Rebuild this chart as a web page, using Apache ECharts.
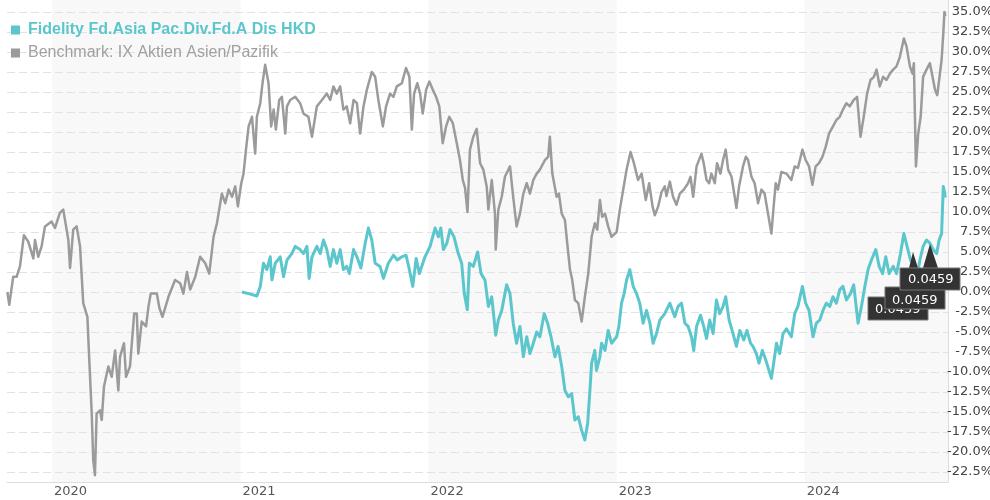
<!DOCTYPE html>
<html>
<head>
<meta charset="utf-8">
<script src="https://cdn.jsdelivr.net/npm/echarts@6/dist/echarts.min.js"></script>
<style>html,body{margin:0;padding:0;background:#fff}#chart{width:990px;height:500px}</style>
</head>
<body>
<div id="chart"></div>
<script>
// Time positions are decimal years, values are percent performance
const fundName = 'Fidelity Fd.Asia Pac.Div.Fd.A Dis HKD';
const benchName = 'Benchmark: IX Aktien Asien/Pazifik';
const axisStart = 2019.761;
const axisEnd = 2024.760;
const yearBands = [[2020, 2021], [2022, 2023], [2024, 2024.760]];
const calloutLabel = '0.0459';

const benchmark = [[2019.763,0.0],[2019.773,-1.6],[2019.794,1.9],[2019.812,1.9],[2019.830,3.2],[2019.851,7.1],[2019.874,6.3],[2019.901,4.2],[2019.910,6.5],[2019.927,4.4],[2019.945,5.7],[2019.963,8.2],[2019.998,8.8],[2020.016,8.0],[2020.042,9.9],[2020.060,10.3],[2020.087,6.5],[2020.096,3.0],[2020.113,7.8],[2020.131,8.2],[2020.149,5.7],[2020.166,-1.4],[2020.188,-3.1],[2020.198,-8.5],[2020.211,-15.2],[2020.219,-21.0],[2020.228,-22.9],[2020.237,-15.2],[2020.255,-14.8],[2020.264,-16.0],[2020.276,-11.8],[2020.299,-9.3],[2020.317,-10.6],[2020.335,-7.3],[2020.352,-12.3],[2020.361,-8.1],[2020.382,-6.4],[2020.393,-10.6],[2020.414,-9.3],[2020.436,-2.7],[2020.450,-2.7],[2020.458,-7.7],[2020.476,-3.7],[2020.499,-4.3],[2020.512,-1.8],[2020.524,-0.2],[2020.556,-0.2],[2020.570,-2.0],[2020.586,-3.1],[2020.618,-0.6],[2020.653,1.5],[2020.680,1.1],[2020.697,-0.2],[2020.716,2.5],[2020.733,0.3],[2020.760,1.9],[2020.786,4.4],[2020.813,3.6],[2020.834,2.3],[2020.857,6.9],[2020.875,8.6],[2020.901,12.3],[2020.919,11.1],[2020.937,12.8],[2020.955,11.9],[2020.972,13.2],[2020.986,10.7],[2021.004,13.6],[2021.016,14.8],[2021.029,17.8],[2021.043,20.7],[2021.061,21.9],[2021.078,17.3],[2021.087,21.9],[2021.105,23.6],[2021.117,26.1],[2021.131,28.4],[2021.149,26.1],[2021.163,20.7],[2021.176,22.8],[2021.188,20.3],[2021.206,24.0],[2021.220,24.4],[2021.238,19.8],[2021.247,23.2],[2021.264,24.0],[2021.291,24.4],[2021.317,23.6],[2021.335,22.3],[2021.361,21.9],[2021.380,19.4],[2021.406,23.2],[2021.433,24.0],[2021.459,24.8],[2021.477,24.0],[2021.494,25.7],[2021.512,24.8],[2021.530,25.7],[2021.547,22.8],[2021.565,23.2],[2021.583,21.1],[2021.601,24.0],[2021.619,23.6],[2021.636,19.8],[2021.654,23.2],[2021.672,25.3],[2021.698,27.5],[2021.716,26.9],[2021.733,24.0],[2021.757,20.7],[2021.774,23.2],[2021.795,24.8],[2021.813,24.4],[2021.831,25.7],[2021.858,26.1],[2021.880,28.0],[2021.898,26.9],[2021.911,20.3],[2021.923,24.8],[2021.940,26.1],[2021.955,24.8],[2021.969,22.3],[2021.987,25.3],[2022.004,26.3],[2022.022,25.3],[2022.040,24.4],[2022.057,23.2],[2022.075,18.6],[2022.093,20.7],[2022.110,21.9],[2022.129,21.1],[2022.150,18.6],[2022.167,16.5],[2022.182,14.0],[2022.194,13.0],[2022.207,10.0],[2022.220,17.8],[2022.238,19.4],[2022.256,20.4],[2022.274,16.1],[2022.291,15.3],[2022.309,13.2],[2022.318,10.3],[2022.336,14.0],[2022.353,9.8],[2022.357,5.3],[2022.371,10.3],[2022.389,11.9],[2022.406,14.4],[2022.433,15.7],[2022.450,11.9],[2022.468,8.2],[2022.486,9.8],[2022.504,12.3],[2022.522,13.6],[2022.539,12.3],[2022.557,14.0],[2022.575,14.8],[2022.592,15.3],[2022.619,16.5],[2022.636,16.9],[2022.645,19.4],[2022.658,14.8],[2022.681,11.9],[2022.693,12.3],[2022.708,9.8],[2022.725,9.0],[2022.739,5.7],[2022.752,2.8],[2022.764,1.5],[2022.778,-1.0],[2022.796,-1.4],[2022.814,-3.7],[2022.831,-0.6],[2022.849,2.3],[2022.867,6.9],[2022.884,8.6],[2022.897,7.8],[2022.911,11.5],[2022.923,9.4],[2022.938,9.8],[2022.955,8.2],[2022.973,6.9],[2023.000,7.5],[2023.017,10.3],[2023.035,12.8],[2023.053,15.3],[2023.074,17.5],[2023.092,16.1],[2023.114,14.0],[2023.133,14.8],[2023.155,11.5],[2023.173,13.6],[2023.191,10.7],[2023.203,9.6],[2023.221,10.7],[2023.239,12.5],[2023.256,13.2],[2023.265,12.0],[2023.283,13.8],[2023.300,11.9],[2023.318,10.9],[2023.336,12.3],[2023.357,12.8],[2023.380,13.6],[2023.393,14.4],[2023.407,11.9],[2023.425,15.7],[2023.451,17.3],[2023.463,16.1],[2023.478,14.0],[2023.492,13.6],[2023.504,14.8],[2023.522,13.6],[2023.534,16.1],[2023.552,14.8],[2023.566,16.5],[2023.580,17.8],[2023.593,15.3],[2023.611,14.4],[2023.628,11.9],[2023.637,10.5],[2023.651,13.2],[2023.672,15.7],[2023.687,16.9],[2023.699,16.5],[2023.717,14.4],[2023.734,13.6],[2023.752,11.1],[2023.770,12.8],[2023.787,12.3],[2023.805,9.8],[2023.823,7.3],[2023.835,10.7],[2023.846,13.6],[2023.858,12.8],[2023.876,15.0],[2023.903,14.8],[2023.929,14.0],[2023.947,15.7],[2023.964,15.5],[2023.988,17.8],[2024.005,16.5],[2024.023,15.7],[2024.041,13.4],[2024.058,15.7],[2024.076,16.1],[2024.094,16.9],[2024.112,18.2],[2024.129,19.8],[2024.150,20.7],[2024.168,21.5],[2024.186,21.9],[2024.203,22.8],[2024.221,23.6],[2024.239,23.2],[2024.260,24.0],[2024.278,24.4],[2024.296,19.4],[2024.313,21.9],[2024.331,24.8],[2024.349,26.5],[2024.367,26.9],[2024.381,27.8],[2024.398,25.7],[2024.416,26.9],[2024.434,26.5],[2024.452,27.3],[2024.469,27.8],[2024.487,28.2],[2024.505,29.4],[2024.526,31.7],[2024.540,30.7],[2024.558,28.2],[2024.572,27.3],[2024.579,28.6],[2024.590,15.7],[2024.602,19.8],[2024.615,21.9],[2024.628,26.9],[2024.646,27.8],[2024.664,28.6],[2024.678,26.9],[2024.691,25.3],[2024.703,24.6],[2024.713,26.5],[2024.726,29.0],[2024.735,32.3],[2024.741,35.0],[2024.746,34.5]];

const fund = [[2021.008,0.0],[2021.043,-0.2],[2021.087,-0.5],[2021.105,0.7],[2021.122,3.6],[2021.140,2.8],[2021.158,4.4],[2021.167,1.5],[2021.185,3.6],[2021.211,4.4],[2021.229,1.9],[2021.247,4.0],[2021.273,4.8],[2021.291,5.7],[2021.317,5.3],[2021.335,4.8],[2021.353,5.7],[2021.365,1.7],[2021.380,4.4],[2021.406,5.7],[2021.424,4.8],[2021.441,6.5],[2021.459,5.3],[2021.477,3.2],[2021.494,5.3],[2021.512,3.6],[2021.530,5.3],[2021.547,2.8],[2021.565,3.2],[2021.579,2.3],[2021.601,5.3],[2021.619,4.4],[2021.640,3.0],[2021.663,6.1],[2021.680,8.0],[2021.698,6.5],[2021.716,3.6],[2021.742,3.2],[2021.760,1.7],[2021.786,3.6],[2021.813,4.6],[2021.834,4.0],[2021.858,4.4],[2021.880,4.6],[2021.898,2.8],[2021.916,0.7],[2021.934,4.2],[2021.951,2.3],[2021.981,4.4],[2022.008,5.7],[2022.035,8.0],[2022.052,6.9],[2022.065,8.0],[2022.079,5.3],[2022.097,6.1],[2022.114,7.8],[2022.135,6.9],[2022.158,4.8],[2022.176,3.6],[2022.190,-0.2],[2022.206,-2.2],[2022.217,3.6],[2022.238,3.2],[2022.261,5.0],[2022.279,2.3],[2022.300,1.5],[2022.318,-1.8],[2022.336,-0.6],[2022.357,-5.4],[2022.371,-3.5],[2022.389,-2.3],[2022.415,0.9],[2022.433,-0.2],[2022.450,-3.9],[2022.468,-6.4],[2022.486,-4.3],[2022.504,-8.1],[2022.522,-5.6],[2022.539,-7.7],[2022.557,-6.4],[2022.575,-5.0],[2022.592,-5.6],[2022.615,-2.7],[2022.633,-3.9],[2022.651,-5.6],[2022.672,-8.1],[2022.689,-6.8],[2022.708,-9.3],[2022.725,-12.3],[2022.743,-13.1],[2022.761,-12.7],[2022.778,-16.0],[2022.796,-15.6],[2022.814,-17.3],[2022.831,-18.5],[2022.846,-16.4],[2022.858,-12.3],[2022.867,-8.9],[2022.884,-7.3],[2022.893,-9.8],[2022.911,-8.1],[2022.920,-6.4],[2022.938,-7.3],[2022.955,-4.8],[2022.973,-6.4],[2023.000,-5.6],[2023.012,-4.3],[2023.026,-1.4],[2023.040,-0.2],[2023.053,1.5],[2023.070,2.8],[2023.088,0.7],[2023.106,-0.2],[2023.123,-1.4],[2023.141,-3.9],[2023.159,-2.3],[2023.177,-3.9],[2023.194,-6.4],[2023.212,-5.2],[2023.230,-3.5],[2023.256,-2.7],[2023.283,-1.4],[2023.309,-3.1],[2023.327,-1.8],[2023.345,-1.4],[2023.363,-3.9],[2023.380,-4.3],[2023.398,-5.6],[2023.410,-7.3],[2023.425,-4.3],[2023.446,-2.9],[2023.463,-4.3],[2023.478,-5.8],[2023.495,-3.5],[2023.513,-5.2],[2023.531,-1.0],[2023.548,-2.7],[2023.566,-1.8],[2023.580,-0.6],[2023.598,-3.5],[2023.619,-5.2],[2023.637,-6.8],[2023.655,-4.8],[2023.676,-6.0],[2023.693,-4.8],[2023.712,-6.4],[2023.725,-6.8],[2023.743,-7.7],[2023.757,-8.9],[2023.775,-7.3],[2023.793,-8.5],[2023.810,-9.8],[2023.823,-10.8],[2023.835,-8.9],[2023.850,-6.4],[2023.867,-7.7],[2023.885,-5.2],[2023.903,-4.6],[2023.929,-5.6],[2023.947,-2.7],[2023.964,-1.8],[2023.988,0.7],[2024.005,-1.4],[2024.023,-2.3],[2024.044,-5.6],[2024.062,-3.9],[2024.080,-3.5],[2024.097,-2.3],[2024.115,-1.4],[2024.133,-1.8],[2024.150,-0.6],[2024.168,-1.4],[2024.186,0.3],[2024.203,0.7],[2024.221,-1.0],[2024.243,-0.2],[2024.260,0.9],[2024.283,-3.9],[2024.301,-1.8],[2024.319,0.7],[2024.336,2.8],[2024.354,4.0],[2024.377,5.3],[2024.395,3.2],[2024.413,2.3],[2024.430,4.4],[2024.448,2.3],[2024.469,3.2],[2024.487,2.3],[2024.508,4.8],[2024.526,7.3],[2024.543,5.7],[2024.561,4.0],[2024.579,3.4],[2024.593,1.5],[2024.611,4.0],[2024.628,5.7],[2024.646,6.5],[2024.664,6.1],[2024.682,5.3],[2024.700,4.8],[2024.713,6.5],[2024.726,7.3],[2024.735,13.2],[2024.741,12.5],[2024.746,11.8]];

// decimal year -> timestamp
function ts(t) {
  const y = Math.floor(t);
  const s = Date.UTC(y, 0, 1), e = Date.UTC(y + 1, 0, 1);
  return s + (t - y) * (e - s);
}
const toSeries = arr => arr.map(p => [ts(p[0]), p[1]]);

const xMin = ts(axisStart), xMax = ts(axisEnd);
const DAY = 86400000;
const labelFont = 'DejaVu Sans';

const chart = echarts.init(document.getElementById('chart'), null, {renderer: 'canvas'});
chart.setOption({
  animation: false,
  backgroundColor: '#fff',
  grid: [
    {left: 7, right: 42, top: 0, bottom: 18, outerBoundsMode: 'none', containLabel: false},
    {left: 7, right: 42, top: 12, height: 460, outerBoundsMode: 'none', containLabel: false}
  ],
  legend: {
    orient: 'vertical', left: 6, top: 17, itemWidth: 9, itemHeight: 9, itemGap: 7,
    icon: 'rect', selectedMode: false,
    textStyle: {fontFamily: 'Liberation Sans, Arial, sans-serif', fontSize: 16, padding: [0, 0, 0, 3]},
    data: [
      {name: fundName, textStyle: {color: '#5bc6cc', fontWeight: 'bold'}},
      {name: benchName, textStyle: {color: '#a0a0a0', fontWeight: 'normal'}}
    ]
  },
  xAxis: [
    {
      type: 'time', gridIndex: 0, min: xMin, max: xMax,
      minInterval: 365 * DAY, maxInterval: 366 * DAY,
      axisLine: {show: true, lineStyle: {color: '#dddddd', width: 1}},
      axisTick: {show: false}, splitLine: {show: false},
      axisLabel: {formatter: '{yyyy}', align: 'left', margin: 3, padding: [0, 0, 0, 2],
        color: '#555', fontFamily: labelFont, fontSize: 13, hideOverlap: false}
    },
    {type: 'time', gridIndex: 1, min: xMin, max: xMax, show: false}
  ],
  yAxis: [
    {
      type: 'value', gridIndex: 0, min: 0, max: 1, position: 'right',
      axisLine: {show: true, lineStyle: {color: '#dddddd', width: 1}},
      axisLabel: {show: false}, axisTick: {show: false}, splitLine: {show: false}
    },
    {
      type: 'value', gridIndex: 1, position: 'right', min: -22.5, max: 35, interval: 2.5,
      axisLine: {show: false}, axisTick: {show: false},
      splitLine: {show: true, lineStyle: {color: '#e2e2e2', width: 1, type: [8, 4]}},
      axisLabel: {formatter: v => v.toFixed(1) + '%', align: 'right', margin: 45,
        color: '#444', fontFamily: labelFont, fontSize: 13}
    }
  ],
  series: [
    {
      name: 'bands', type: 'line', xAxisIndex: 0, yAxisIndex: 0, silent: true, z: -1,
      data: [[xMin, 0]], symbol: 'none', lineStyle: {opacity: 0},
      markArea: {
        silent: true, z: -1,
        itemStyle: {color: '#f8f8f8'},
        data: yearBands.map(b => [{xAxis: ts(b[0]), yAxis: 0}, {xAxis: ts(b[1]), yAxis: 1}])
      }
    },
    {
      name: benchName, type: 'line', xAxisIndex: 1, yAxisIndex: 1, clip: false,
      data: toSeries(benchmark), symbol: 'none', showSymbol: false,
      itemStyle: {color: '#9b9b9b'},
      lineStyle: {color: '#9b9b9b', width: 2.5, join: 'round'}, z: 3
    },
    {
      name: fundName, type: 'line', xAxisIndex: 1, yAxisIndex: 1, clip: false,
      data: toSeries(fund), symbol: 'none', showSymbol: false,
      itemStyle: {color: '#5bc6cc'},
      lineStyle: {color: '#5bc6cc', width: 3, join: 'round'}, z: 4
    }
  ],
  graphic: [
    {type: 'rect', z: 100, shape: {x: 868, y: 297, width: 60, height: 23}, style: {fill: '#333', stroke: '#777', lineWidth: 1}},
    {type: 'text', z: 101, x: 875, y: 310, style: {text: calloutLabel, fill: '#fff', font: '13px "DejaVu Sans"', verticalAlign: 'middle'}},
    {type: 'rect', z: 102, shape: {x: 885, y: 287, width: 60, height: 22}, style: {fill: '#333', stroke: '#777', lineWidth: 1}},
    {type: 'text', z: 103, x: 892, y: 301, style: {text: calloutLabel, fill: '#fff', font: '13px "DejaVu Sans"', verticalAlign: 'middle'}},
    {type: 'polygon', z: 104, shape: {points: [[909, 268], [913, 252], [918, 268]]}, style: {fill: '#333'}},
    {type: 'polygon', z: 104, shape: {points: [[923, 268], [930, 244], [938, 268]]}, style: {fill: '#333'}},
    {type: 'rect', z: 105, shape: {x: 900, y: 268, width: 60, height: 22}, style: {fill: '#333', stroke: '#777', lineWidth: 1}},
    {type: 'text', z: 106, x: 908, y: 280, style: {text: calloutLabel, fill: '#fff', font: '13px "DejaVu Sans"', verticalAlign: 'middle'}}
  ]
});
</script>
</body>
</html>
